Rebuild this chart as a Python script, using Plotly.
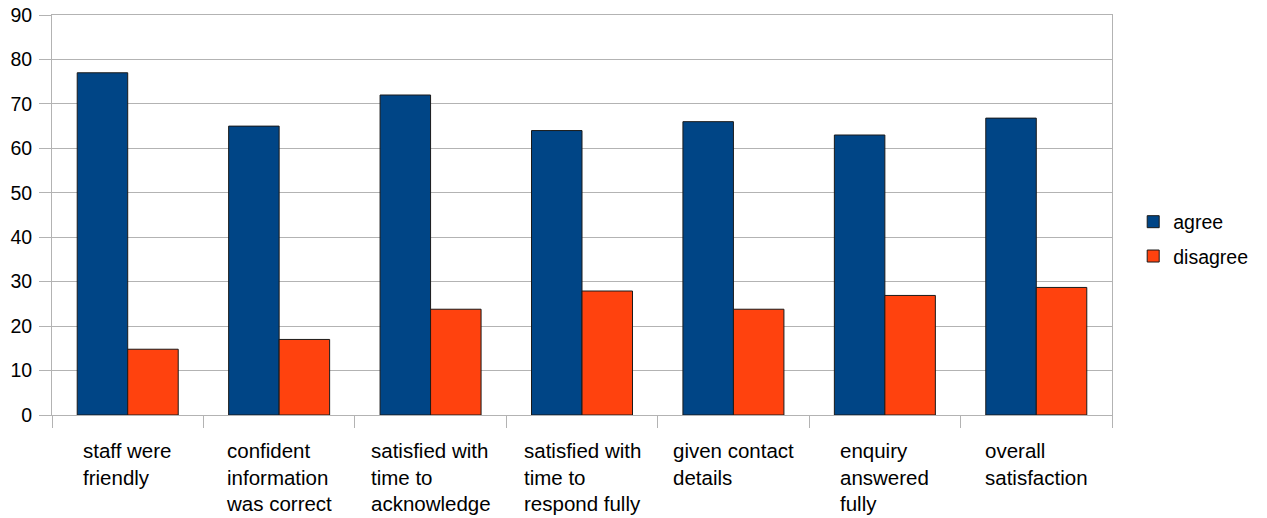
import plotly.graph_objects as go

categories = [
    "staff were friendly",
    "confident information was correct",
    "satisfied with time to acknowledge",
    "satisfied with time to respond fully",
    "given contact details",
    "enquiry answered fully",
    "overall satisfaction",
]
label_lines = [
    ["staff were", "friendly"],
    ["confident", "information", "was correct"],
    ["satisfied with", "time to", "acknowledge"],
    ["satisfied with", "time to", "respond fully"],
    ["given contact", "details"],
    ["enquiry", "answered", "fully"],
    ["overall", "satisfaction"],
]
agree = [77, 65, 72, 64, 66, 63, 66.8]
disagree = [14.8, 17, 23.8, 27.9, 23.8, 26.9, 28.7]
y_ticks = [0, 10, 20, 30, 40, 50, 60, 70, 80, 90]

FONT = "Liberation Sans, Arial, sans-serif"
GRID = "#b3b3b3"

fig = go.Figure()
fig.add_bar(name="agree", x=categories, y=agree, legendgroup="a",
            marker=dict(color="#004586", line=dict(color="#1a1a1a", width=1)))
fig.add_bar(name="disagree", x=categories, y=disagree, legendgroup="d",
            marker=dict(color="#ff420e", line=dict(color="#1a1a1a", width=1)))

for cat, lines in zip(categories, label_lines):
    fig.add_annotation(x=cat, y=0, xref="x", yref="paper", yanchor="top",
                       xanchor="center", yshift=-22, align="left",
                       text="<br>".join(lines), showarrow=False,
                       font=dict(family=FONT, size=20.5, color="#000000"))

fig.update_layout(
    width=1267, height=518,
    margin=dict(l=52, r=155, t=15, b=103, autoexpand=False),
    paper_bgcolor="white", plot_bgcolor="white",
    barmode="group", bargap=0.333, bargroupgap=0,
    font=dict(family=FONT, size=19, color="#000000"),
    showlegend=True,
    legend=dict(x=1.02, y=0.44, xanchor="left", yanchor="middle",
                font=dict(family=FONT, size=19.5), tracegroupgap=6),
)
fig.update_xaxes(showticklabels=False, tickson="boundaries", ticks="outside",
                 ticklen=12, tickcolor=GRID, showline=True, linecolor=GRID,
                 linewidth=1, mirror=True, showgrid=False, automargin=False)
fig.update_yaxes(range=[0, 90], tickvals=y_ticks, ticks="outside", ticklen=12,
                 tickcolor=GRID, showline=True, linecolor=GRID, linewidth=1,
                 mirror=True, showgrid=True, gridcolor=GRID, gridwidth=1,
                 zeroline=False, automargin=False, ticklabelstandoff=3,
                 tickfont=dict(family=FONT, size=19.5))

fig.write_html("out.html")
